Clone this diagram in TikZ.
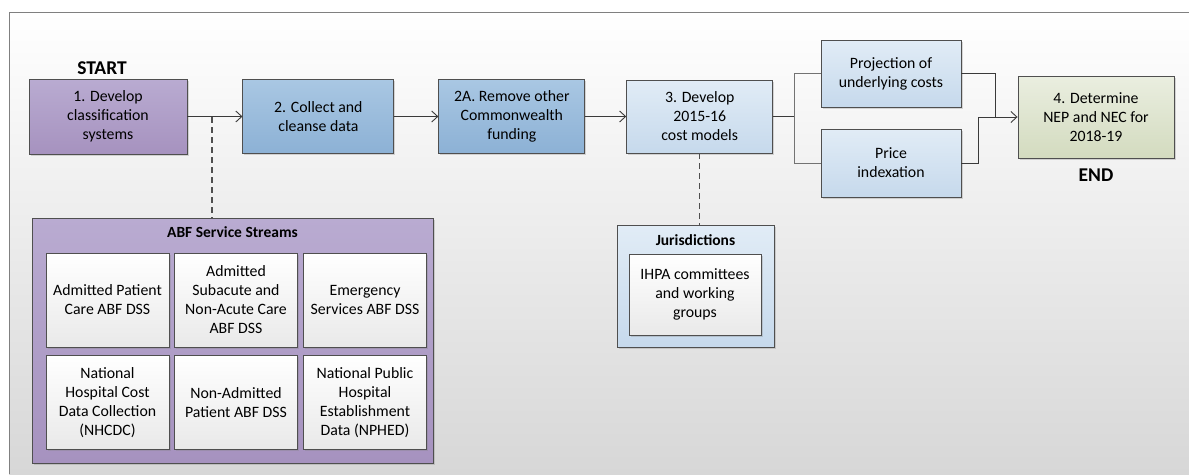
\documentclass[tikz,border=0pt]{standalone}
\usepackage{fontspec}
\setmainfont{Carlito}
\usepackage{tikz}
\usetikzlibrary{positioning}
\usetikzlibrary{arrows.meta}
\usetikzlibrary{shadows}
\definecolor{purptop}{HTML}{B9ABD1}
\definecolor{purpbot}{HTML}{A692BF}
\definecolor{bluetop}{HTML}{A9C7E3}
\definecolor{bluebot}{HTML}{8CB1D5}
\definecolor{palebluetop}{HTML}{E1ECF6}
\definecolor{palebluebot}{HTML}{C6D9EC}
\definecolor{greentop}{HTML}{EAEEE0}
\definecolor{greenbot}{HTML}{D3DBBF}
\definecolor{whitebot}{HTML}{E9E9E9}
\definecolor{bgbot}{HTML}{D7D7D7}
\definecolor{edgegrey}{HTML}{4F4F4F}
\definecolor{wiregrey}{HTML}{3A3A3A}
\tikzset{	x=1pt, y=-1pt,
	every node/.style={
		font=\fontsize{15.8}{19}\selectfont},
	stepbox/.style={
		draw=edgegrey,
		line width=0.9pt,
		align=center,
		inner sep=2pt,
		drop shadow={shadow xshift=1.5pt, shadow yshift=-1.5pt, opacity=0.3}},
	purplebox/.style={stepbox, top color=purptop, bottom color=purpbot},
	bluebox/.style={stepbox, top color=bluetop, bottom color=bluebot},
	palebox/.style={stepbox, top color=palebluetop, bottom color=palebluebot},
	greenbox/.style={stepbox, top color=greentop, bottom color=greenbot},
	streambox/.style={stepbox, top color=white, bottom color=whitebot,
		minimum width=123pt, minimum height=94pt},
	boxtitle/.style={font=\fontsize{15.5}{18}\selectfont\bfseries, inner sep=0pt},
	marker/.style={font=\fontsize{19.5}{22}\selectfont\bfseries, inner sep=2pt},
	wire/.style={draw=wiregrey, line width=0.9pt},
	flow/.style={wire, -{Straight Barb[length=6pt,width=11pt,line width=0.9pt]}},
	link/.style={draw=edgegrey, line width=1.4pt, dash pattern=on 6pt off 4pt}
}
\begin{document}
\begin{tikzpicture}
	\useasboundingbox (0,0) rectangle (1189,474);
	% background panel
	\fill[top color=white, bottom color=bgbot] (9,12) rectangle (1189,474);
	\draw[gray, line width=1pt] (9,474) -- (9,12) -- (1189,12);

	% main steps
	\node[purplebox, minimum width=158pt, minimum height=75pt] (dev) at (108,116.5) {1. Develop\\classification\\systems};
	\node[bluebox, minimum width=151pt, minimum height=74pt, right=55pt of dev] (collect) {2. Collect and\\cleanse data};
	\node[bluebox, minimum width=146pt, minimum height=74pt, right=44pt of collect] (remove) {2A. Remove other\\Commonwealth\\funding};
	\node[palebox, minimum width=146pt, minimum height=73pt, right=41pt of remove] (models) {3. Develop\\2015-16\\cost models};
	\node[palebox, minimum width=140pt, minimum height=67pt] (proj) at (891,73.5) {Projection of\\underlying costs};
	\node[palebox, minimum width=140pt, minimum height=68pt] (index) at (891,163) {Price\\indexation};
	\node[greenbox, minimum width=156pt, minimum height=82pt] (nep) at (1096,117) {4. Determine\\NEP and NEC for\\2018-19};
	\node[marker, above=2pt of dev, xshift=-6pt] (start) {START};
	\node[marker, below=8pt of nep] (finish) {END};

	% service streams
	\node[purplebox, minimum width=401pt, minimum height=245pt] (abf) at (232.5,340.5) {};
	\node[boxtitle, below=9pt of abf.north] (abftitle) {ABF Service Streams};
	\node[streambox] (apc) at (107.5,300) {Admitted Patient\\Care ABF DSS};
	\node[streambox] (snac) at (236,300) {Admitted\\Subacute and\\Non-Acute Care\\ABF DSS};
	\node[streambox] (ed) at (365,300) {Emergency\\Services ABF DSS};
	\node[streambox] (nhcdc) at (107.5,402.5) {National\\Hospital Cost\\Data Collection\\(NHCDC)};
	\node[streambox] (nap) at (236,402.5) {Non-Admitted\\Patient ABF DSS};
	\node[streambox] (nphed) at (365,402.5) {National Public\\Hospital\\Establishment\\Data (NPHED)};

	% jurisdictions
	\node[palebox, minimum width=157pt, minimum height=122pt] (jur) at (695.5,286) {};
	\node[boxtitle, below=10pt of jur.north] (jurtitle) {Jurisdictions};
	\node[streambox, minimum width=132pt, minimum height=81pt] (ihpa) at (695,294.5) {IHPA committees\\and working\\groups};

	% connectors
	\coordinate (tap) at (212,117);
	\coordinate[right=21pt of models] (split);
	\coordinate[left=22pt of nep] (merge);
	\draw[flow] (dev.east) -- (collect.west);
	\draw[flow] (collect.east) -- (remove.west);
	\draw[flow] (remove.east) -- (models.west);
	\draw[wire, line width=1.8pt] (models.east) -- (split);
	\draw[wire, draw=gray!90!black] (split) |- (proj.west);
	\draw[wire, draw=gray!90!black] (split) |- (index.west);
	\draw[wire] (proj.east) -| (merge);
	\draw[wire] (index.east) -- ++(17,0) |- (merge);
	\draw[flow] (merge) -- (nep.west);
	\draw[link] (tap) -- (tap |- abf.north);
	\draw[link] (models.south) -- (models.south |- jur.north);
\end{tikzpicture}
\end{document}
